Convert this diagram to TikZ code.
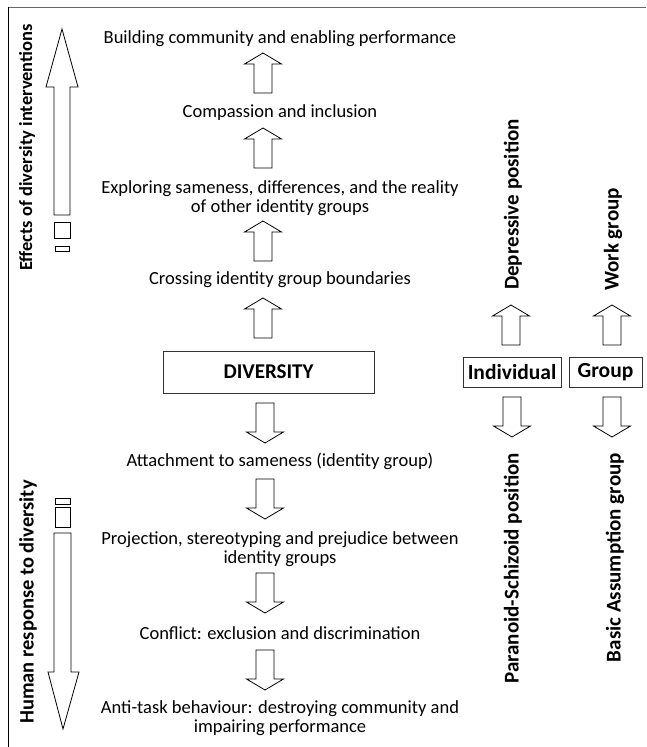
\documentclass[tikz,border=0pt]{standalone}
\usepackage{fontspec}
\setmainfont{Carlito}
\begin{document}
\begin{tikzpicture}[x=1pt,y=-1pt,
  txt/.style={font=\fontsize{18.5}{19}\selectfont, align=center, inner sep=0pt},
  bold/.style={font=\fontsize{21}{22}\selectfont\bfseries, inner sep=0pt},
  labbox/.style={draw=black!80, line width=0.8pt, font=\fontsize{21.5}{22}\selectfont\bfseries, inner sep=0pt, minimum height=30},
  blockarrow/.pic={\draw[line width=0.8pt, fill=white] (-9,20) -- (-9,-9) -- (-18.5,-9) -- (0,-20) -- (18.5,-9) -- (9,-9) -- (9,20) -- cycle;}
]
\useasboundingbox (0,0) rectangle (646,747);
% frame
\draw[line width=1.6pt, black!60] (8,7.5) -- (646,7.5);
\draw[line width=0.8pt] (8,7) -- (8,747);

% central column
\node[txt] (n1) at (280,39) {Building community and enabling performance};
\node[txt] (n2) at (280,113) {Compassion and inclusion};
\node[txt] (n3) at (280,198) {Exploring sameness, differences, and the reality\\of other identity groups};
\node[txt] (n4) at (280,280) {Crossing identity group boundaries};
\node[labbox, minimum width=211, minimum height=42, font=\fontsize{21}{22}\selectfont\bfseries] (div) at (268.5,372) {DIVERSITY};
\node[txt] (n5) at (280,461) {Attachment to sameness (identity group)};
\node[txt] (n6) at (280,549) {Projection, stereotyping and prejudice between\\identity groups};
\node[txt] (n7) at (280,633) {Conflict: exclusion and discrimination};
\node[txt] (n8) at (280,718) {Anti-task behaviour: destroying community and\\impairing performance};

\pic at (263,73) {blockarrow};
\pic at (263,148) {blockarrow};
\pic at (263,241) {blockarrow};
\pic at (263,318) {blockarrow};
\pic[rotate=180] at (265,423) {blockarrow};
\pic[rotate=180] at (265,499) {blockarrow};
\pic[rotate=180] at (265,593) {blockarrow};
\pic[rotate=180] at (265,670) {blockarrow};

% right columns
\node[labbox, minimum width=98] (ind) at (512,372) {Individual};
\node[labbox, minimum width=73] (grp) at (605.5,372) {Group};
\pic at (511,325) {blockarrow};
\pic at (612,325) {blockarrow};
\pic[rotate=180] at (512,417) {blockarrow};
\pic[rotate=180] at (612,417) {blockarrow};
\node[bold, rotate=90, anchor=west] (dep) at (513,290) {Depressive position};
\node[bold, rotate=90, anchor=west] (work) at (613,291) {Work group};
\node[bold, rotate=90, anchor=east] (para) at (513,453) {Paranoid-Schizoid position};
\node[bold, rotate=90, anchor=east] (basic) at (615,453) {Basic Assumption group};

% left big arrows
\draw[line width=0.8pt, fill=white] (54,215) -- (54,87) -- (46,87) -- (62,29) -- (78,87) -- (70,87) -- (70,215) -- cycle;
\draw[line width=0.8pt] (54.5,222) rectangle (70,238);
\draw[line width=0.8pt] (55,246) rectangle (69,251);
\draw[line width=0.8pt, fill=white] (54,533) -- (54,672) -- (48,672) -- (63,729) -- (79,672) -- (71,672) -- (71,533) -- cycle;
\draw[line width=0.8pt] (55,507) rectangle (70,527);
\draw[line width=0.8pt] (55,498) rectangle (70,504);
\node[bold, rotate=90, font=\fontsize{18.5}{20}\selectfont\bfseries] (eff) at (27,147.5) {Effects of diversity interventions};
\node[bold, rotate=90, font=\fontsize{20.5}{22}\selectfont\bfseries] (hum) at (28,602) {Human response to diversity};
\end{tikzpicture}
\end{document}
